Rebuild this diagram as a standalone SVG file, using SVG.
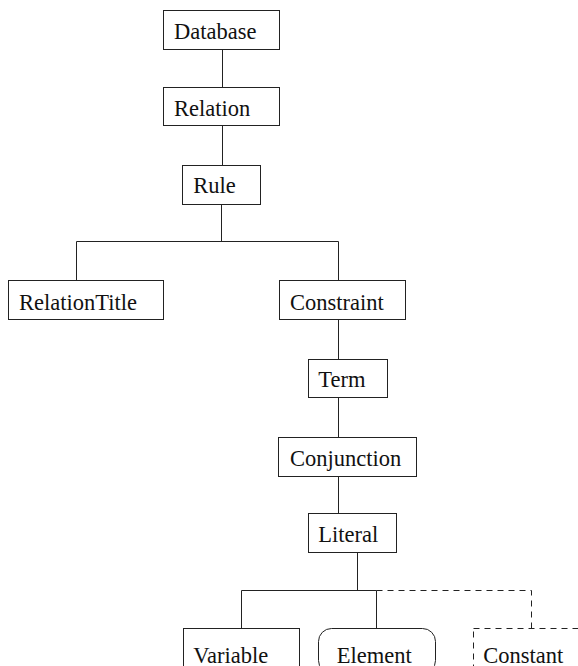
<svg xmlns="http://www.w3.org/2000/svg" width="578" height="666" viewBox="0 0 578 666">
<style>
.box{fill:#fff;stroke:#222;stroke-width:1}
.dbox{fill:#fff;stroke:#222;stroke-width:1;stroke-dasharray:6 5}
.ln{fill:none;stroke:#222;stroke-width:1}
.dln{fill:none;stroke:#222;stroke-width:1;stroke-dasharray:6 5}
text{font-family:"Liberation Serif","Times New Roman",serif;font-size:22.5px;fill:#111}
</style>
<rect width="578" height="666" fill="#fff"/>
<g id="connectors">
<path class="ln" d="M222.5 49.5V87.5M222.5 125.5V165.5M221.5 204.5V241.5M76.5 241.5H338.5M76.5 241.5V280.5M338.5 241.5V280.5M338.5 319.5V359.5M338.5 397.5V437.5M338.5 476.5V513.5M357.5 552.5V590.5M241.5 590.5H376.5M241.5 590.5V628.5M376.5 590.5V628.5"/>
<path class="dln" d="M376.5 590.5H531.5V628.5"/>
</g>
<g id="database"><rect class="box" x="163.5" y="10.5" width="116" height="39"/><text x="174" y="39">Database</text></g>
<g id="relation"><rect class="box" x="163.5" y="87.5" width="116" height="38"/><text x="174" y="116">Relation</text></g>
<g id="rule"><rect class="box" x="182.5" y="165.5" width="78" height="39"/><text x="193.3" y="193">Rule</text></g>
<g id="relationtitle"><rect class="box" x="8.5" y="280.5" width="155" height="39"/><text x="19" y="310">RelationTitle</text></g>
<g id="constraint"><rect class="box" x="279.5" y="280.5" width="126" height="39"/><text x="290" y="310">Constraint</text></g>
<g id="term"><rect class="box" x="308.5" y="359.5" width="79" height="38"/><text x="318.3" y="387.3">Term</text></g>
<g id="conjunction"><rect class="box" x="278.5" y="437.5" width="138" height="39"/><text x="290" y="466">Conjunction</text></g>
<g id="literal"><rect class="box" x="308.5" y="513.5" width="88" height="39"/><text x="318.3" y="542.3">Literal</text></g>
<g id="variable"><rect class="box" x="183.5" y="628.5" width="116" height="40"/><text x="193.3" y="663">Variable</text></g>
<g id="element"><rect class="box" x="318.5" y="628.5" width="117" height="45" rx="13" ry="13"/><text x="336.7" y="663">Element</text></g>
<g id="constant"><rect class="dbox" x="473.5" y="628.5" width="130" height="45"/><text x="483.3" y="663">Constant</text></g>
</svg>
